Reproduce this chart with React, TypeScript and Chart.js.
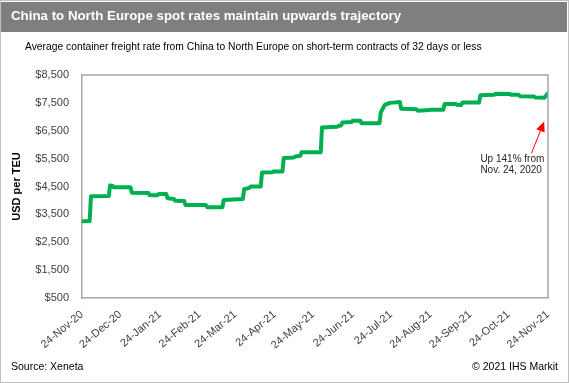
import React, { useEffect, useRef } from "react";
import { Chart, registerables } from "chart.js";

Chart.register(...registerables);

// Days since 24-Nov-20 and the matching rate (USD per TEU)
const days = [
  0, 6, 7, 21, 22, 24, 25, 38, 39, 52, 53, 59, 60, 66, 67, 72, 73, 80, 81, 97, 98, 110, 111, 126, 127, 131, 132, 140,
  141, 149, 150, 157, 158, 166, 167, 171, 172, 187, 188, 200, 201, 203, 204, 211, 212, 218, 219, 233, 234, 237, 241,
  249, 250, 262, 263, 272, 273, 283, 284, 293, 294, 297, 298, 311, 312, 323, 324, 335, 336, 342, 343, 354, 355, 362, 365,
];
const rates = [
  3250, 3260, 4150, 4160, 4540, 4520, 4470, 4470, 4280, 4270, 4190, 4190, 4230, 4230, 4080, 4050, 3990, 3980, 3840, 3840,
  3760, 3760, 4020, 4050, 4400, 4450, 4500, 4500, 5000, 5010, 5040, 5040, 5520, 5540, 5580, 5600, 5730, 5730, 6620, 6640,
  6680, 6690, 6800, 6810, 6860, 6860, 6770, 6770, 7150, 7420, 7500, 7530, 7290, 7270, 7220, 7240, 7250, 7250, 7460, 7460,
  7420, 7420, 7510, 7510, 7770, 7790, 7830, 7820, 7790, 7790, 7740, 7730, 7690, 7680, 7840,
];

const tickDays = [0, 30, 61, 92, 120, 151, 181, 212, 242, 273, 304, 334, 365];
const tickLabels = [
  "24-Nov-20", "24-Dec-20", "24-Jan-21", "24-Feb-21", "24-Mar-21", "24-Apr-21", "24-May-21",
  "24-Jun-21", "24-Jul-21", "24-Aug-21", "24-Sep-21", "24-Oct-21", "24-Nov-21",
];

const yMin = 500;
const yMax = 8500;
const yStep = 1000;

// annotation anchors (data space)
const arrowTip = { day: 362, value: 6830 };
const arrowTail = { day: 352, value: 5690 };
const noteLines = ["Up 141% from", "Nov. 24, 2020"];

const FONT = "'Liberation Sans', Arial, sans-serif";

const annotationPlugin = {
  id: "annot",
  afterDatasetsDraw(chart: any) {
    const { ctx, chartArea, scales } = chart;
    const x = scales.x;
    const y = scales.y;
    ctx.save();
    // box top & right borders
    ctx.strokeStyle = "#a6a6a6";
    ctx.lineWidth = 1.5;
    ctx.beginPath();
    ctx.moveTo(chartArea.left, chartArea.top);
    ctx.lineTo(chartArea.right, chartArea.top);
    ctx.lineTo(chartArea.right, chartArea.bottom);
    ctx.stroke();

    const tx = x.getPixelForValue(arrowTip.day);
    const ty = y.getPixelForValue(arrowTip.value);
    const sx = x.getPixelForValue(arrowTail.day);
    const sy = y.getPixelForValue(arrowTail.value);
    const ang = Math.atan2(ty - sy, tx - sx);
    const headLen = 10;
    const headW = 4.5;
    const bx = tx - headLen * Math.cos(ang);
    const by = ty - headLen * Math.sin(ang);
    ctx.strokeStyle = "#ff0000";
    ctx.fillStyle = "#ff0000";
    ctx.lineWidth = 1;
    ctx.beginPath();
    ctx.moveTo(sx, sy);
    ctx.lineTo(bx, by);
    ctx.stroke();
    ctx.beginPath();
    ctx.moveTo(tx, ty);
    ctx.lineTo(bx + headW * Math.sin(ang), by - headW * Math.cos(ang));
    ctx.lineTo(bx - headW * Math.sin(ang), by + headW * Math.cos(ang));
    ctx.closePath();
    ctx.fill();

    ctx.fillStyle = "#262626";
    ctx.font = `10px ${FONT}`;
    ctx.textAlign = "left";
    ctx.textBaseline = "middle";
    noteLines.forEach((t, i) => {
      ctx.fillText(t, sx - 51, sy + 6 + i * 11);
    });
    ctx.restore();
  },
};

export default function App() {
  const ref = useRef<HTMLCanvasElement>(null);
  useEffect(() => {
    document.body.style.margin = "0";
    const points = days.map((d, i) => ({ x: d, y: rates[i] }));
    const chart = new Chart(ref.current as HTMLCanvasElement, {
      type: "line",
      data: {
        datasets: [
          {
            data: points,
            borderColor: "#00b050",
            borderWidth: 4,
            pointRadius: 0,
            tension: 0,
            borderJoinStyle: "round",
            borderCapStyle: "round",
          },
        ],
      },
      options: {
        animation: false,
        responsive: false,
        maintainAspectRatio: false,
        layout: { padding: { left: 0, top: 75, right: 21, bottom: 35 } },
        plugins: { legend: { display: false }, tooltip: { enabled: false }, title: { display: false } },
        scales: {
          x: {
            type: "linear",
            min: tickDays[0],
            max: tickDays[tickDays.length - 1],
            grid: { display: false, drawTicks: false },
            border: { display: true, color: "#a6a6a6", width: 1.5 },
            afterBuildTicks: (scale: any) => {
              scale.ticks = tickDays.map((v) => ({ value: v }));
            },
            afterFit: (scale: any) => {
              scale.height = 50;
            },
            ticks: {
              autoSkip: false,
              minRotation: 40,
              maxRotation: 40,
              padding: 10,
              color: "#404040",
              font: { family: FONT, size: 11 },
              callback: (v: any) => {
                const idx = tickDays.indexOf(Number(v));
                return idx >= 0 ? tickLabels[idx] : "";
              },
            },
          },
          y: {
            min: yMin,
            max: yMax,
            grid: { display: false, drawTicks: false },
            border: { display: true, color: "#a6a6a6", width: 1.5 },
            afterFit: (scale: any) => {
              scale.width = 82;
            },
            title: {
              display: true,
              text: "USD per TEU",
              color: "#000000",
              font: { family: FONT, size: 11, weight: "bold" },
              padding: { top: 10, bottom: 0 },
            },
            ticks: {
              stepSize: yStep,
              padding: 13,
              color: "#404040",
              font: { family: FONT, size: 11 },
              callback: (v: any) => "$" + Number(v).toLocaleString("en-US"),
            },
          },
        },
      },
      plugins: [annotationPlugin],
    } as any);
    return () => chart.destroy();
  }, []);

  return (
    <div
      style={{
        position: "absolute",
        left: 0,
        top: 0,
        width: 569,
        height: 383,
        background: "#ffffff",
        fontFamily: FONT,
      }}
    >
      <canvas ref={ref} width={569} height={383} style={{ position: "absolute", left: 0, top: 0 }} />
      <div
        style={{
          position: "absolute",
          left: 0,
          top: 0,
          width: 567,
          height: 381,
          border: "1px solid #bfbfbf",
          pointerEvents: "none",
        }}
      />
      <div
        style={{
          position: "absolute",
          left: 1,
          top: 2,
          width: 566,
          height: 30,
          background: "#7f7f7f",
        }}
      />
      <div
        style={{
          position: "absolute",
          left: 11,
          top: 1,
          height: 30,
          lineHeight: "30px",
          color: "#ffffff",
          fontWeight: "bold",
          fontSize: 13.3,
          whiteSpace: "nowrap",
        }}
      >
        China to North Europe spot rates maintain upwards trajectory
      </div>
      <div
        style={{
          position: "absolute",
          left: 25,
          top: 39,
          lineHeight: "16px",
          color: "#000000",
          fontSize: 10.3,
          whiteSpace: "nowrap",
        }}
      >
        Average container freight rate from China to North Europe on short-term contracts of 32 days or less
      </div>
      <div
        style={{
          position: "absolute",
          left: 11,
          top: 359,
          lineHeight: "15px",
          color: "#000000",
          fontSize: 10.5,
          whiteSpace: "nowrap",
        }}
      >
        Source: Xeneta
      </div>
      <div
        style={{
          position: "absolute",
          right: 11,
          top: 359,
          lineHeight: "15px",
          color: "#000000",
          fontSize: 10.5,
          whiteSpace: "nowrap",
        }}
      >
        © 2021 IHS Markit
      </div>
    </div>
  );
}
